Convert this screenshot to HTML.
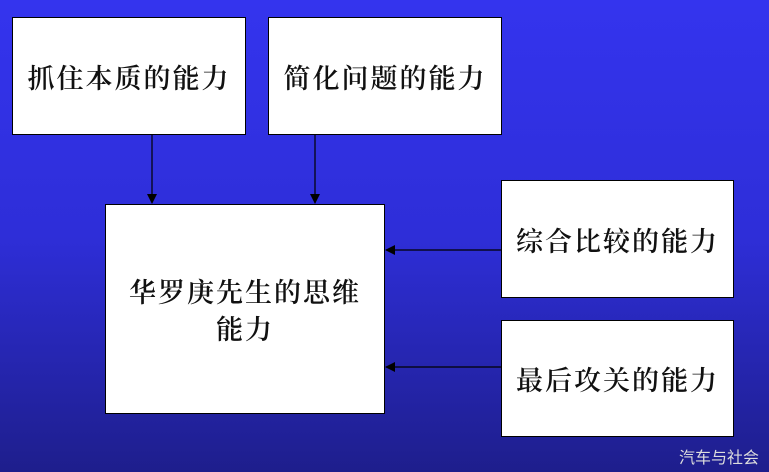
<!DOCTYPE html>
<html><head><meta charset="utf-8"><style>
html,body{margin:0;padding:0}
body{width:769px;height:472px;position:relative;overflow:hidden;background:linear-gradient(#3434ee 0%,#2e2ed8 50%,#1e1e8c 100%);font-family:"Noto Serif CJK SC","Liberation Serif",serif}
.b{position:absolute;background:#fff;border:1px solid #000;box-sizing:border-box;display:flex;align-items:center;justify-content:center;text-align:center;font-size:27px;letter-spacing:2px;font-weight:600;color:#111;line-height:37px}
.w{position:absolute;right:10px;bottom:4px;color:#ddd;font-size:16px;font-family:"Liberation Sans","Noto Sans CJK SC",sans-serif}
</style></head><body>
<svg width="769" height="472" style="position:absolute;left:0;top:0">
<defs><marker id="a" markerWidth="10" markerHeight="10" refX="9" refY="5" orient="auto" markerUnits="userSpaceOnUse"><path d="M0,0 L10,5 L0,10z" fill="#000"/></marker></defs>
<g stroke="#000" stroke-width="1.2">
<line x1="152" y1="134" x2="152" y2="203" marker-end="url(#a)"/>
<line x1="315" y1="134" x2="315" y2="203" marker-end="url(#a)"/>
<line x1="501" y1="250" x2="386" y2="250" marker-end="url(#a)"/>
<line x1="501" y1="367" x2="386" y2="367" marker-end="url(#a)"/>
</g></svg>
<div class="b" style="left:12px;top:17px;width:234px;height:118px">抓住本质的能力</div>
<div class="b" style="left:268px;top:17px;width:234px;height:118px">简化问题的能力</div>
<div class="b" style="left:105px;top:204px;width:280px;height:210px">华罗庚先生的思维<br>能力</div>
<div class="b" style="left:501px;top:180px;width:233px;height:118px">综合比较的能力</div>
<div class="b" style="left:501px;top:320px;width:233px;height:117px">最后攻关的能力</div>
<div class="w">汽车与社会</div>
</body></html>
